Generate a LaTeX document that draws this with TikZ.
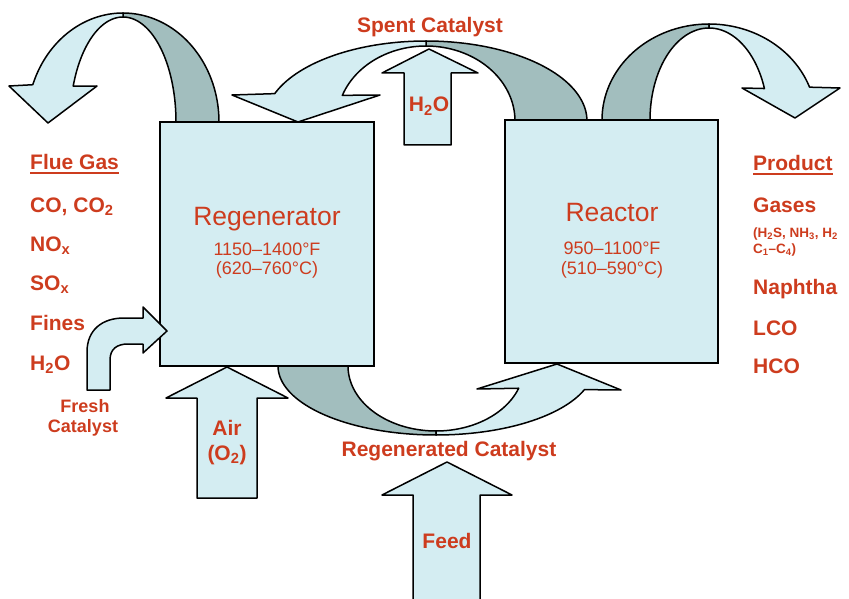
\documentclass[tikz,border=0pt]{standalone}
\usepackage{fontspec}
\setmainfont{Liberation Sans}
\usepackage{xcolor}
\usepackage{tikz}
\usetikzlibrary{positioning}

\definecolor{cyanlite}{RGB}{212,237,242}
\definecolor{bandgray}{RGB}{162,190,190}
\definecolor{flamered}{RGB}{205,60,30}

\newcommand\ulword[1]{\setbox0\hbox{#1}\rlap{\rule[-4pt]{\wd0}{2pt}}\box0}

\begin{document}
\begin{tikzpicture}[
    x=1pt, y=-1pt,
    lite/.style={draw=black, fill=cyanlite, line width=1.5pt, line join=round},
    dark/.style={draw=black, fill=bandgray, line width=1.5pt, line join=round},
    vessel/.style={rectangle, draw=black, fill=cyanlite, line width=1.5pt, inner sep=0pt},
    item/.style={text=flamered, font=\bfseries\fontsize{21}{25}\selectfont, anchor=base west, inner sep=0pt},
    tag/.style={text=flamered, font=\bfseries\fontsize{21}{25}\selectfont, anchor=base, inner sep=0pt},
    title/.style={text=flamered, font=\fontsize{26.5}{31}\selectfont, anchor=base, inner sep=0pt},
    temp/.style={text=flamered, font=\fontsize{18}{21}\selectfont, anchor=base, inner sep=0pt}
]
\useasboundingbox (0,0) rectangle (849,599);

% flue gas loop over the regenerator
\draw[dark] plot[domain=270:360, samples=40] ({123+53*cos(\x)},{122+105*sin(\x)})
    -- plot[domain=360:270, samples=40] ({123+96*cos(\x)},{122+109*sin(\x)}) -- cycle;
\draw[lite] (97,86) -- plot[domain=200:270, samples=40] ({123+53*cos(\x)},{122+105*sin(\x)})
    -- plot[domain=270:200, samples=40] ({123+96*cos(\x)},{122+109*sin(\x)})
    -- (9,86) -- (48,123) -- cycle;

% product loop over the reactor
\draw[dark] plot[domain=180:270, samples=40] ({709+59*cos(\x)},{120+92*sin(\x)})
    -- plot[domain=270:180, samples=40] ({709+107*cos(\x)},{120+96*sin(\x)}) -- cycle;
\draw[lite] (742,88) -- plot[domain=340:270, samples=40] ({709+59*cos(\x)},{120+92*sin(\x)})
    -- plot[domain=270:340, samples=40] ({709+107*cos(\x)},{120+96*sin(\x)})
    -- (840,88) -- (795,118) -- cycle;

% spent catalyst, reactor to regenerator
\draw[dark] plot[domain=270:360, samples=40] ({426+89*cos(\x)},{121+75*sin(\x)})
    -- plot[domain=360:270, samples=40] ({426+161*cos(\x)},{121+80*sin(\x)}) -- cycle;
\draw[lite] (380,95) -- plot[domain=200:270, samples=40] ({426+89*cos(\x)},{121+75*sin(\x)})
    -- plot[domain=270:200, samples=40] ({426+161*cos(\x)},{121+80*sin(\x)})
    -- (232,95) -- (298,122) -- cycle;

% regenerated catalyst, regenerator to reactor
\draw[dark] plot[domain=90:180, samples=40] ({436+88*cos(\x)},{366+65*sin(\x)})
    -- plot[domain=180:90, samples=40] ({436+158*cos(\x)},{366+69*sin(\x)}) -- cycle;
\draw[lite] (477,389) -- plot[domain=20:90, samples=40] ({436+88*cos(\x)},{366+65*sin(\x)})
    -- plot[domain=90:20, samples=40] ({436+158*cos(\x)},{366+69*sin(\x)})
    -- (621,390) -- (557,364) -- cycle;

% vessels
\node[vessel, minimum width=214pt, minimum height=244pt] (regen) at (267,244) {};
\node[vessel, minimum width=213pt, minimum height=243pt] (reactor) at (611.5,241.5) {};

% straight feeds
\draw[lite] (404,145) -- (404,73) -- (382,73) -- (429,49) -- (478,73) -- (451,73) -- (451,145) -- cycle;
\draw[lite] (197,498) -- (197,398) -- (166,398) -- (227,367) -- (288,398) -- (257,398) -- (257,498) -- cycle;
\draw[lite] (413,603) -- (413,495) -- (382,495) -- (447,462) -- (512,495) -- (480,495) -- (480,603) -- cycle;
\draw[lite] (87,390) -- (87,352) .. controls (87,330) and (102,318) .. (124,318) -- (143,318) -- (143,307)
    -- (167,331) -- (143,353) -- (143,344) -- (128,344) .. controls (117,344) and (110,349) .. (110,360)
    -- (110,390) -- cycle;

% vessel labels
\node[title] (regentitle) at (267,225) {Regenerator};
\node[temp] (regentempf) at (267,255) {1150–1400°F};
\node[temp] (regentempc) at (267,274) {(620–760°C)};
\node[title] (reactortitle) at (612,222) {Reactor};
\node[temp] (reactortempf) at (612,254) {950–1100°F};
\node[temp] (reactortempc) at (612,274) {(510–590°C)};

% stream labels
\node[tag] (spent) at (430,33) {Spent Catalyst};
\node[tag] (regencat) at (449,456) {Regenerated Catalyst};
\node[tag] (water) at (429,112) {H\textsubscript{2}O};
\node[tag] (air) at (227,435) {Air};
\node[tag] (oxygen) at (227,460) {(O\textsubscript{2})};
\node[tag] (feed) at (447,548) {Feed};
\node[tag, font=\bfseries\fontsize{18}{21}\selectfont] (fresh) at (85,412) {Fresh};
\node[tag, font=\bfseries\fontsize{18}{21}\selectfont] (freshcat) at (83,432) {Catalyst};

% flue gas list
\node[item] (flue) at (30,170) {\ulword{Flue Gas}};
\node[item] (cox) at (30,212) {CO, CO\textsubscript{2}};
\node[item] (nox) at (30,251) {NO\textsubscript{x}};
\node[item] (sox) at (30,290) {SO\textsubscript{x}};
\node[item] (fines) at (30,330) {Fines};
\node[item] (steam) at (30,370) {H\textsubscript{2}O};

% product list
\node[item] (product) at (753,171) {\ulword{Product}};
\node[item] (gases) at (753,212) {Gases};
\node[item, font=\bfseries\fontsize{13.5}{16}\selectfont] (gasmix) at (753,237) {(H\textsubscript{2}S, NH\textsubscript{3}, H\textsubscript{2}};
\node[item, font=\bfseries\fontsize{13.5}{16}\selectfont] (lightends) at (753,253) {C\textsubscript{1}–C\textsubscript{4})};
\node[item] (naphtha) at (753,294) {Naphtha};
\node[item] (lco) at (753,335) {LCO};
\node[item] (hco) at (753,373) {HCO};
\end{tikzpicture}
\end{document}
